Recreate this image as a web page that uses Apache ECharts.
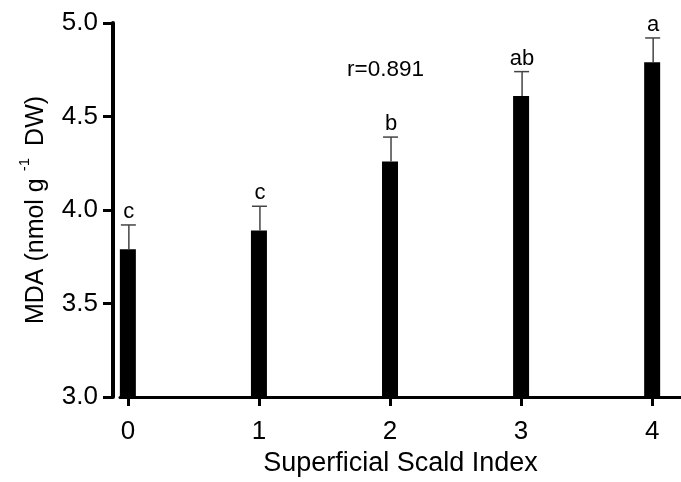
<!DOCTYPE html>
<html>
<head>
<meta charset="utf-8">
<script src="https://cdn.jsdelivr.net/npm/echarts@6/dist/echarts.min.js"></script>
<style>
  html, body { margin: 0; padding: 0; background: #fff; }
  #main { width: 681px; height: 482px; }
</style>
</head>
<body>
<div id="main"></div>
<script>
// scald index categories and MDA means
var scaldIndex = [0, 1, 2, 3, 4];
var mdaMean = [3.79, 3.89, 4.26, 4.61, 4.79];
var mdaErr = [0.13, 0.13, 0.13, 0.13, 0.13];
var sigLetters = ['c', 'c', 'b', 'ab', 'a'];
var yTicks = [3.0, 3.5, 4.0, 4.5, 5.0];

var FONT = 'Liberation Sans';

var myChart = echarts.init(document.getElementById('main'));

var barData = scaldIndex.map(function (x, i) { return [x, mdaMean[i]]; });
var errData = scaldIndex.map(function (x, i) { return [x, mdaMean[i], mdaErr[i]]; });

var option = {
    animation: false,
    backgroundColor: '#fff',
    grid: { left: 120, right: 0, top: 23, bottom: 81 },
    xAxis: {
        type: 'value',
        min: -0.06,
        max: 4.22,
        name: 'Superficial Scald Index',
        nameLocation: 'middle',
        nameGap: 53,
        nameTextStyle: { fontFamily: FONT, fontSize: 27, color: '#000' },
        axisLine: { onZero: false, lineStyle: { color: '#000', width: 3 } },
        axisTick: { customValues: scaldIndex, length: 9, lineStyle: { color: '#000', width: 3 } },
        axisLabel: {
            customValues: scaldIndex, margin: 22,
            fontFamily: FONT, fontSize: 26, color: '#000',
            formatter: function (v) { return String(v); }
        },
        splitLine: { show: false }
    },
    yAxis: {
        type: 'value',
        min: 3,
        max: 5,
        interval: 0.5,
        offset: 7,
        name: '{n|MDA (nmol g}{s|-1}{n|DW)}',
        nameLocation: 'middle',
        nameGap: 64,
        nameTextStyle: {
            rich: {
                n: { fontFamily: FONT, fontSize: 25, color: '#000', padding: [7, 0, 0, 0] },
                s: { fontFamily: FONT, fontSize: 15, color: '#000', verticalAlign: 'top', padding: [0, 12, 0, 7] }
            }
        },
        axisLine: { show: true, onZero: false, lineStyle: { color: '#000', width: 4 } },
        axisTick: { length: 10, lineStyle: { color: '#000', width: 3 } },
        axisLabel: {
            margin: 15, fontFamily: FONT, fontSize: 26, color: '#000',
            formatter: function (v) { return v.toFixed(1); }
        },
        splitLine: { show: false }
    },
    graphic: [{
        type: 'text',
        left: 347,
        top: 58,
        style: { text: 'r=0.891', fontFamily: FONT, fontSize: 22.5, fill: '#000' }
    }],
    series: [{
        type: 'bar',
        data: barData,
        barWidth: 16,
        itemStyle: { color: '#000' }
    }, {
        type: 'custom',
        data: errData,
        z: 5,
        renderItem: function (params, api) {
            var x = api.value(0), y = api.value(1), e = api.value(2);
            var p0 = api.coord([x, y]);
            var p1 = api.coord([x, y + e]);
            var letter = sigLetters[params.dataIndex];
            return {
                type: 'group',
                children: [{
                    type: 'line',
                    shape: { x1: p0[0] + 1, y1: p0[1], x2: p0[0] + 1, y2: p1[1] },
                    style: { stroke: '#444', lineWidth: 1.5 }
                }, {
                    type: 'line',
                    shape: { x1: p0[0] - 7, y1: p1[1], x2: p0[0] + 8, y2: p1[1] },
                    style: { stroke: '#444', lineWidth: 1.5 }
                }, {
                    type: 'text',
                    style: {
                        text: letter, x: p0[0] + 1, y: p1[1] - 2,
                        align: 'center', verticalAlign: 'bottom',
                        fontFamily: FONT, fontSize: 22, fill: '#000'
                    }
                }]
            };
        }
    }]
};
myChart.setOption(option);
</script>
</body>
</html>
